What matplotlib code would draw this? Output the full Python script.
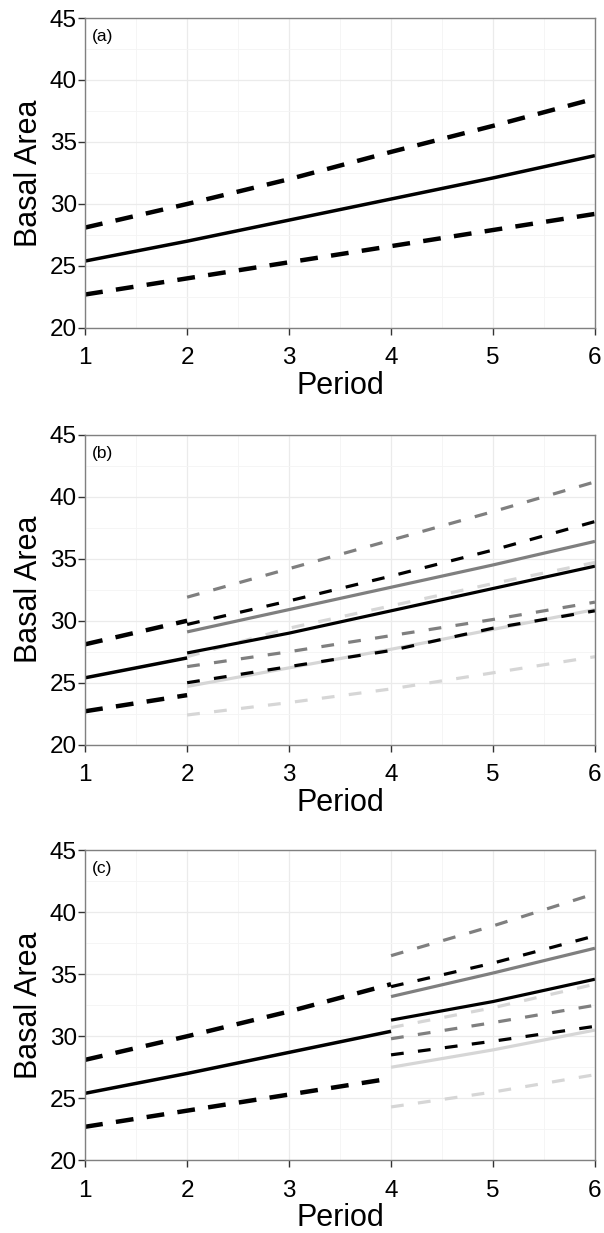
import matplotlib
matplotlib.use('Agg')
import matplotlib.pyplot as plt
from matplotlib.ticker import MultipleLocator

plt.rcParams['font.family'] = ['Liberation Sans', 'DejaVu Sans']

# shared history (periods 1-6), model fit with bounds
period = [1, 2, 3, 4, 5, 6]
fit_mid = [25.4, 27.0, 28.7, 30.4, 32.1, 33.9]
fit_hi = [28.1, 30.0, 32.0, 34.2, 36.3, 38.5]
fit_lo = [22.7, 24.0, 25.3, 26.6, 27.9, 29.2]

# panel b: update after period 2
b_period = [2, 3, 4, 5, 6]
b_black_mid = [27.4, 29.0, 30.8, 32.6, 34.4]
b_black_hi = [29.7, 31.6, 33.6, 35.7, 38.0]
b_black_lo = [25.0, 26.3, 27.6, 29.4, 30.8]
b_gray_mid = [29.1, 30.9, 32.7, 34.5, 36.4]
b_gray_hi = [31.9, 34.2, 36.5, 38.8, 41.2]
b_gray_lo = [26.3, 27.5, 28.8, 30.1, 31.5]
b_light_mid = [24.7, 26.2, 27.7, 29.3, 30.9]
b_light_hi = [27.1, 29.4, 31.2, 33.0, 34.7]
b_light_lo = [22.4, 23.4, 24.5, 25.8, 27.1]

# panel c: update after period 4
c_period = [4, 5, 6]
c_black_mid = [31.3, 32.8, 34.6]
c_black_hi = [34.0, 35.9, 38.1]
c_black_lo = [28.5, 29.6, 30.8]
c_gray_mid = [33.2, 35.1, 37.1]
c_gray_hi = [36.5, 38.9, 41.5]
c_gray_lo = [29.8, 31.1, 32.5]
c_light_mid = [27.5, 28.9, 30.5]
c_light_hi = [30.7, 32.3, 34.2]
c_light_lo = [24.3, 25.5, 26.9]

BLACK = '#000000'
GRAY = '#7f7f7f'
LIGHT = '#d6d6d6'


def style_axes(ax, tag):
    ax.set_xlim(1, 6)
    ax.set_ylim(20, 45)
    ax.xaxis.set_major_locator(MultipleLocator(1))
    ax.xaxis.set_minor_locator(MultipleLocator(0.5))
    ax.yaxis.set_major_locator(MultipleLocator(5))
    ax.yaxis.set_minor_locator(MultipleLocator(2.5))
    ax.grid(which='major', color='#ebebeb', lw=0.9)
    ax.grid(which='minor', color='#f4f4f4', lw=0.6)
    ax.set_axisbelow(True)
    for s in ax.spines.values():
        s.set_color('#808080')
        s.set_linewidth(1.0)
    ax.tick_params(which='major', direction='out', length=5, width=1,
                   color='#333333', labelsize=17.5)
    ax.tick_params(axis='y', pad=1)
    ax.tick_params(axis='x', pad=9)
    ax.tick_params(which='minor', length=0)
    ax.set_xlabel('Period', fontsize=22, labelpad=1)
    ax.set_ylabel('Basal Area', fontsize=22, labelpad=4)
    ax.text(0.013, 0.965, tag, transform=ax.transAxes, fontsize=12.5,
            va='top', ha='left')


def history(ax, upto):
    n = period.index(upto) + 1
    x = period[:n]
    ax.plot(x, fit_mid[:n], color=BLACK, lw=2.5, solid_capstyle='butt')
    ax.plot(x, fit_hi[:n], color=BLACK, lw=3.2, dashes=(4, 3))
    ax.plot(x, fit_lo[:n], color=BLACK, lw=3.2, dashes=(4, 3))


def update(ax, x, series):
    for col, mid, hi, lo in series:
        ax.plot(x, hi, color=col, lw=2.3, dashes=(4, 4.5))
        ax.plot(x, lo, color=col, lw=2.3, dashes=(4, 4.5))
        ax.plot(x, mid, color=col, lw=2.3, solid_capstyle='butt')


fig = plt.figure(figsize=(6.04, 12.33), dpi=100)
left, width, height = 0.141, 0.844, 0.2514

ax_a = fig.add_axes([left, 0.734, width, height])
history(ax_a, 6)
style_axes(ax_a, '(a)')

ax_b = fig.add_axes([left, 0.396, width, height])
history(ax_b, 2)
update(ax_b, b_period, [
    (LIGHT, b_light_mid, b_light_hi, b_light_lo),
    (GRAY, b_gray_mid, b_gray_hi, b_gray_lo),
    (BLACK, b_black_mid, b_black_hi, b_black_lo),
])
style_axes(ax_b, '(b)')

ax_c = fig.add_axes([left, 0.059, width, height])
history(ax_c, 4)
update(ax_c, c_period, [
    (LIGHT, c_light_mid, c_light_hi, c_light_lo),
    (GRAY, c_gray_mid, c_gray_hi, c_gray_lo),
    (BLACK, c_black_mid, c_black_hi, c_black_lo),
])
style_axes(ax_c, '(c)')

fig.savefig('out.png', dpi=100)
